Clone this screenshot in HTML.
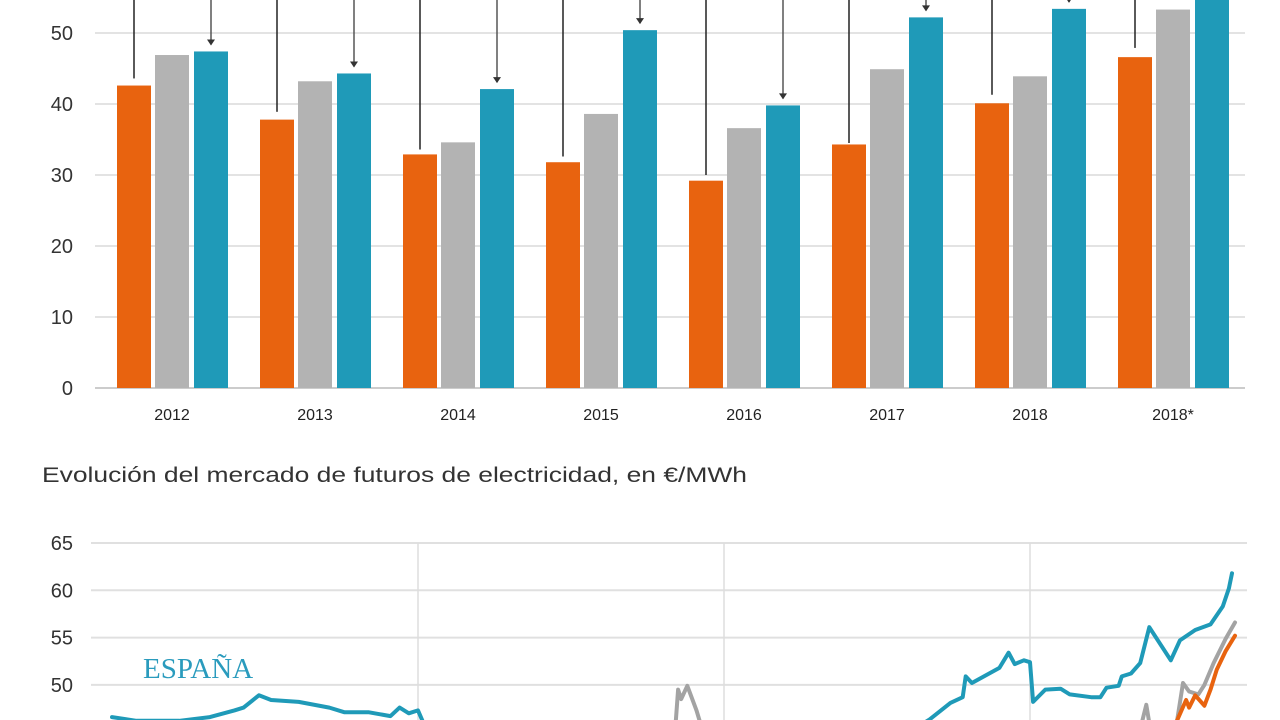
<!DOCTYPE html>
<html><head><meta charset="utf-8"><style>
html,body{margin:0;padding:0;background:#fff;width:1280px;height:720px;overflow:hidden}
svg{display:block;font-family:"Liberation Sans",sans-serif}
</style></head><body>
<svg id="c" width="1280" height="720" viewBox="0 0 1280 720">
<g id="topg"></g>
<text x="42" y="482" font-size="21" fill="#333" textLength="705" lengthAdjust="spacingAndGlyphs">Evolución del mercado de futuros de electricidad, en €/MWh</text>
<g id="botg"></g>
</svg>
<script>
const years = ["2012","2013","2014","2015","2016","2017","2018","2018*"];
const orangeVals = [42.6,37.8,32.9,31.8,29.2,34.3,40.1,46.6];
const grayVals = [46.9,43.2,34.6,38.6,36.6,44.9,43.9,53.3];
const blueVals = [47.4,44.3,42.1,50.4,39.8,52.2,53.4,56.0];
const yTicksTop = [0,10,20,30,40,50];
const orangeLineEnds = [43.6,38.9,33.6,32.6,30.0,34.5,41.3,47.9];

const yTicksBot = [50,55,60,65];
const yearMarks = [2016,2017,2018];
const blueT = [2015.00,2015.08,2015.22,2015.32,2015.40,2015.43,2015.48,2015.52,2015.61,2015.71,2015.76,2015.84,2015.91,2015.94,2015.97,2016.00,2016.02,2016.10,2017.50,2017.67,2017.74,2017.78,2017.79,2017.81,2017.90,2017.93,2017.95,2017.98,2018.00,2018.01,2018.05,2018.10,2018.13,2018.20,2018.23,2018.25,2018.29,2018.30,2018.33,2018.36,2018.39,2018.46,2018.49,2018.54,2018.59,2018.63,2018.65,2018.66];
const blueV = [46.6,46.2,46.2,46.6,47.3,47.6,48.9,48.4,48.2,47.6,47.1,47.1,46.7,47.6,47.0,47.3,45.8,42.0,43.0,46.3,48.1,48.7,50.9,50.2,51.8,53.4,52.2,52.6,52.4,48.2,49.5,49.6,49.0,48.7,48.7,49.7,49.9,50.9,51.2,52.3,56.1,52.6,54.7,55.8,56.4,58.3,60.2,61.8];
const grayT = [2016.80,2016.84,2016.85,2016.86,2016.88,2016.91,2016.95,2018.35,2018.38,2018.40,2018.47,2018.50,2018.52,2018.55,2018.57,2018.60,2018.64,2018.67];
const grayV = [43.0,45.0,49.5,48.5,49.9,47.3,43.0,44.0,47.9,44.0,44.0,50.2,49.3,49.0,50.0,52.3,54.9,56.6];
const orangeT = [2018.45,2018.51,2018.52,2018.54,2018.57,2018.59,2018.61,2018.64,2018.67];
const orangeV = [44.0,48.4,47.6,48.9,47.8,49.5,51.6,53.6,55.2];

const NS="http://www.w3.org/2000/svg";
function mk(tag,attrs,parent,txt){const e=document.createElementNS(NS,tag);for(const k in attrs)e.setAttribute(k,attrs[k]);if(txt!==undefined)e.textContent=txt;parent.appendChild(e);return e;}
const topG=document.getElementById('topg'), botG=document.getElementById('botg');
const yT=v=>388-v*7.1;
const gx=i=>117+i*143;
yTicksTop.forEach(v=>{
  const l=mk('line',{x1:95,x2:1245,y1:yT(v),y2:yT(v),stroke:v===0?'#ccc':'#e3e3e3','stroke-width':2},topG);
  
  
  const t=mk('text',{x:73,y:yT(v)+7,'text-anchor':'end','font-size':20,fill:'#333'},topG,v);
  
  
});
const series=[[orangeVals,0,'#e8630f','orange'],[grayVals,38,'#b3b3b3','gray'],[blueVals,77,'#1f9ab8','blue']];
years.forEach((y,i)=>{
  series.forEach(([vals,off,col,nm])=>{
    const r=mk('rect',{x:gx(i)+off,y:yT(vals[i]),width:34,height:yT(0)-yT(vals[i]),fill:col},topG);
    
    
  });
  const ox=gx(i)+17;
  const ol=mk('line',{x1:ox,x2:ox,y1:0,y2:yT(orangeLineEnds[i]),stroke:'#222','stroke-width':1.5},topG);
  
  
  if(i<7){
    const bx=gx(i)+94, be=yT(blueVals[i])-7;
    const al=mk('line',{x1:bx,x2:bx,y1:0,y2:be,stroke:'#555','stroke-width':1.5},topG);
    
    
    const ah=mk('path',{d:`M${bx-4},${be-5}L${bx+4},${be-5}L${bx},${be+1}Z`,fill:'#333'},topG);
    
    
  }
  const lt=mk('text',{x:gx(i)+55,y:420,'text-anchor':'middle','font-size':16,fill:'#222'},topG,y);
  
  
});
const yB=v=>543+(65-v)*9.46;
const xB=t=>418+(t-2016)*306;
yTicksBot.forEach(v=>{
  const l=mk('line',{x1:91,x2:1247,y1:yB(v),y2:yB(v),stroke:'#e0e0e0','stroke-width':2},botG);
  
  
  const t=mk('text',{x:73,y:yB(v)+7,'text-anchor':'end','font-size':20,fill:'#333'},botG,v);
  
  
});
yearMarks.forEach(t=>{
  const l=mk('line',{x1:xB(t),x2:xB(t),y1:543,y2:720,stroke:'#ddd','stroke-width':1.5},botG);
  
  
});
function line(T,V,col,nm){
  const d=T.map((t,i)=>(i?'L':'M')+xB(t).toFixed(1)+','+yB(V[i]).toFixed(1)).join('');
  const p=mk('path',{d:d,fill:'none',stroke:col,'stroke-width':4,'stroke-linejoin':'round','stroke-linecap':'round'},botG);
  
  
}
line(grayT,grayV,'#a3a3a3','line-gray');
line(orangeT,orangeV,'#e8630f','line-orange');
line(blueT,blueV,'#1f9ab8','line-spain');
const lab=mk('text',{x:143,y:678,'font-size':29,fill:'#2a9bbd','font-family':'"Liberation Serif",serif'},botG,'ESPAÑA');


</script>
</body></html>
